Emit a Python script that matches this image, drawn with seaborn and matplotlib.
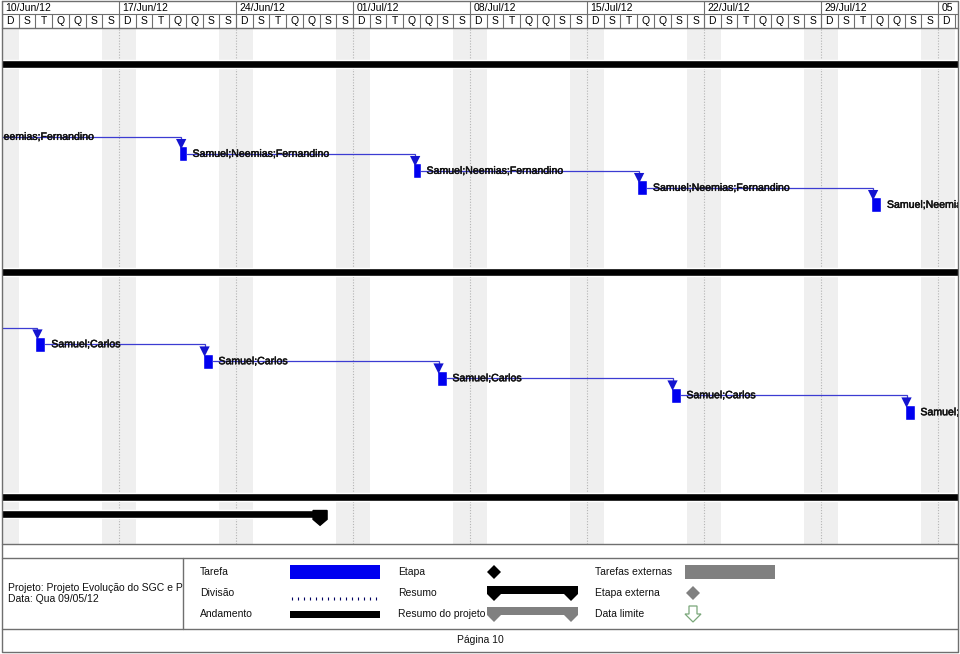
import matplotlib
matplotlib.use("Agg")
import matplotlib.pyplot as plt
import matplotlib.patheffects as pe
import numpy as np
import pandas as pd
import seaborn as sns
from matplotlib.patches import Rectangle, Polygon

sns.set_theme(style="white")
plt.rcParams['font.family'] = ['Liberation Sans', 'DejaVu Sans']

# ---------------- data ----------------
week_labels = ["10/Jun/12", "17/Jun/12", "24/Jun/12", "01/Jul/12", "08/Jul/12",
               "15/Jul/12", "22/Jul/12", "29/Jul/12", "05"]
day_letters = ["D", "S", "T", "Q", "Q", "S", "S"]
visible_days = 57.2          # days shown from 10/Jun/12
row_count = 30.35            # rows shown in the chart body

# tasks: day offsets from 10/Jun/12, durations in days, row positions
g1_label = "Samuel;Neemias;Fernandino"
g1_start = [-3.45, 10.6, 24.6, 38.0, 52.0]
g1_dur = [0.42, 0.45, 0.45, 0.6, 0.6]
g1_row = [6.4, 7.4, 8.4, 9.4, 10.4]

g2_label = "Samuel;Carlos"
g2_start = [-10.0, 2.0, 12.0, 26.0, 40.0, 54.0]
g2_dur = [0.6, 0.6, 0.6, 0.6, 0.6, 0.6]
g2_row = [17.65, 18.6, 19.6, 20.6, 21.6, 22.6]

summary_row = [2.1, 14.35, 27.6]
summary_start = [-5.0, -5.0, -5.0]
summary_end = [62.0, 62.0, 62.0]

project_row = 28.6
project_start = -5.0
project_end = 19.45

legend_col1 = ["Tarefa", "Divisão", "Andamento"]
legend_col2 = ["Etapa", "Resumo", "Resumo do projeto"]
legend_col3 = ["Tarefas externas", "Etapa externa", "Data limite"]
project_info = ["Projeto: Projeto Evolução do SGC e P", "Data: Qua 09/05/12"]
page_label = "Página 10"

# ---------------- styles ----------------
W, H = 960, 654
BORDER = "#6f6f6f"
BLUE = "#0000f0"
LINK = "#3c3cd2"
SHADE = "#efefef"
FS_TASK = 7.6
FS = 7.5
heavy = [pe.withStroke(linewidth=0.35, foreground="#111111")]

fig = plt.figure(figsize=(W / 100, H / 100), dpi=100)

# ---- Gantt body ----
ax = fig.add_axes([2 / W, 1 - 544 / H, 956 / W, 516 / H])
ax.set_xlim(0, visible_days)
ax.set_ylim(row_count, 0)
ax.set_axis_off()

for d in range(-1, int(visible_days) + 2, 7):
    ax.axvspan(d, d + 2, color=SHADE, lw=0, zorder=0)
for d in range(7, int(visible_days) + 1, 7):
    ax.axvline(d, color="#b4b4b4", lw=0.8, ls=(0, (1, 1.5)), zorder=0.5)

# summary bars
for r, s, e in zip(summary_row, summary_start, summary_end):
    ax.barh(r, e - s, left=s, height=0.47, color="black", zorder=2)

# project summary bar with end cap
ax.barh(project_row, project_end - project_start, left=project_start,
        height=0.45, color="black", zorder=2)
cap_w = 0.84
cap = Polygon([(project_end - cap_w, project_row - 0.22), (project_end, project_row - 0.22),
               (project_end, project_row + 0.3), (project_end - cap_w / 2, project_row + 0.65),
               (project_end - cap_w, project_row + 0.3)], closed=True,
              color="black", zorder=2)
ax.add_patch(cap)

arrows = []
for starts, durs, rows, label in [(g1_start, g1_dur, g1_row, g1_label),
                                  (g2_start, g2_dur, g2_row, g2_label)]:
    ax.barh(rows, durs, left=starts, height=0.9, color=BLUE, zorder=3)
    for s, d, r in zip(starts, durs, rows):
        ax.text(s + d + 0.35, r, label, fontsize=FS_TASK, color="#111111",
                va="center", ha="left", zorder=5, clip_on=True, path_effects=heavy)
    for i in range(len(starts) - 1):
        x0 = starts[i] + durs[i]
        y0 = rows[i]
        x1 = starts[i + 1] + 0.12
        y1 = rows[i + 1] - 0.5
        ax.plot([x0, x1, x1], [y0, y0, y1], color=LINK, lw=0.9, zorder=4,
                solid_joinstyle="miter")
        arrows.append((x1, rows[i + 1] - 0.57))

arrow_df = pd.DataFrame(arrows, columns=["x", "y"])
sns.scatterplot(data=arrow_df, x="x", y="y", marker="v", s=55, color="#1414d0",
                edgecolor="none", ax=ax, zorder=4, legend=False)
ax.set_xlim(0, visible_days)
ax.set_ylim(row_count, 0)
ax.set_axis_off()

# ---- timescale header ----
axh = fig.add_axes([2 / W, 1 - 28 / H, 956 / W, 27 / H])
axh.set_xlim(0, visible_days)
axh.set_ylim(27, 0)
axh.set_axis_off()
axh.hlines(13, 0, visible_days, color=BORDER, lw=0.8)
for k, lab in enumerate(week_labels):
    axh.vlines(7 * k, 0, 27, color=BORDER, lw=0.8)
    axh.text(7 * k + 0.2, 6.8, lab, fontsize=FS, va="center", ha="left",
             color="black", clip_on=True)
for d in range(0, int(visible_days) + 1):
    axh.vlines(d, 13, 27, color=BORDER, lw=0.8)
    if d + 1 <= visible_days:
        axh.text(d + 0.5, 20.3, day_letters[d % 7], fontsize=FS, va="center",
                 ha="center", color="black")

# ---- page frame + legend (pixel space) ----
axp = fig.add_axes([0, 0, 1, 1], zorder=10)
axp.set_xlim(0, W)
axp.set_ylim(H, 0)
axp.set_axis_off()
axp.patch.set_alpha(0)

lw = 1.0
axp.plot([2, 958, 958, 2, 2], [1, 1, 652, 652, 1], color=BORDER, lw=lw)
for y in [28, 544, 558, 629]:
    axp.plot([2, 958], [y, y], color=BORDER, lw=lw)
axp.plot([183, 183], [558, 629], color=BORDER, lw=lw)

# legend column 1
ys = [572, 593, 614]
for lab, y in zip(legend_col1, ys):
    axp.text(200, y, lab, fontsize=FS, va="center", ha="left", color="#111111")
axp.add_patch(Rectangle((290, 565), 90, 14, color=BLUE, lw=0))
axp.vlines(np.arange(292, 381, 6), 596.5, 599.5, color="#000060", lw=0.8)
axp.add_patch(Rectangle((290, 611), 90, 7, color="black", lw=0))

# legend column 2
for lab, y in zip(legend_col2, ys):
    axp.text(398, y, lab, fontsize=FS, va="center", ha="left", color="#111111")
axp.add_patch(Polygon([(494, 565), (501, 572), (494, 579), (487, 572)], color="black", lw=0))


def summary_shape(x0, x1, top, mid, tip, color):
    cw = 14
    pts = [(x0, top), (x1, top), (x1, mid), (x1 - cw / 2, tip), (x1 - cw, mid),
           (x0 + cw, mid), (x0 + cw / 2, tip), (x0, mid)]
    axp.add_patch(Polygon(pts, closed=True, color=color, lw=0))


summary_shape(487, 578, 586, 594, 601, "black")
summary_shape(487, 578, 607, 615, 622, "#808080")

# legend column 3
for lab, y in zip(legend_col3, ys):
    axp.text(595, y, lab, fontsize=FS, va="center", ha="left", color="#111111")
axp.add_patch(Rectangle((685, 565), 90, 14, color="#808080", lw=0))
axp.add_patch(Polygon([(693, 586), (700, 593), (693, 600), (686, 593)], color="#808080", lw=0))
axp.add_patch(Polygon([(689, 606), (697, 606), (697, 614), (701, 614), (693, 622),
                       (685, 614), (689, 614)], closed=True, facecolor="white",
                      edgecolor="#7aa77a", lw=0.9))

# project info cell (clipped at the divider)
axi = fig.add_axes([2 / W, 1 - 629 / H, 181 / W, 71 / H], zorder=11)
axi.set_xlim(2, 183)
axi.set_ylim(629, 558)
axi.set_axis_off()
axi.patch.set_alpha(0)
axi.text(8, 588, project_info[0], fontsize=FS, va="center", ha="left",
         color="#111111", clip_on=True)
axi.text(8, 599, project_info[1], fontsize=FS, va="center", ha="left",
         color="#111111", clip_on=True)

axp.text(480, 640, page_label, fontsize=FS, va="center", ha="center", color="#111111")

fig.savefig("out.png", dpi=100)
